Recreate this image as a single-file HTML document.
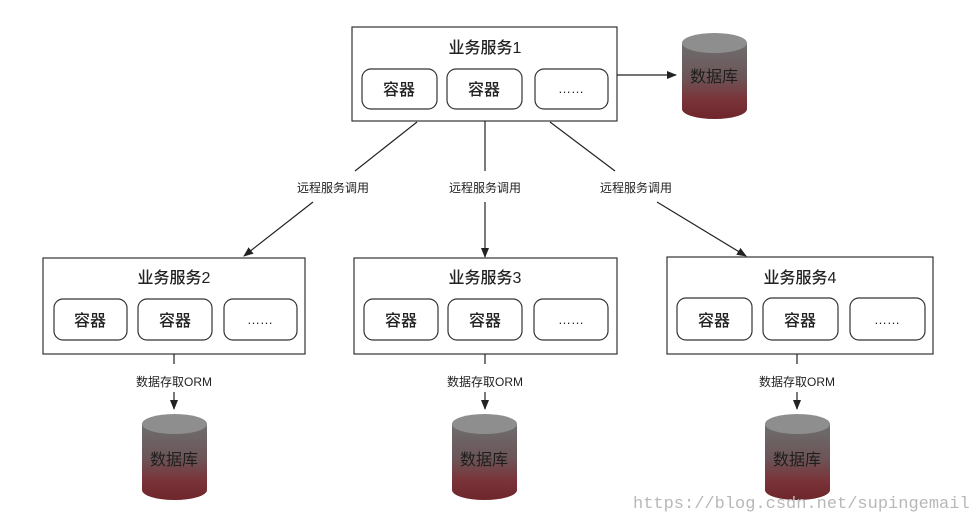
<!DOCTYPE html>
<html><head><meta charset="utf-8"><style>
html,body{margin:0;padding:0;background:#fff;}
svg{display:block;}
text{font-family:"Liberation Sans","Noto Sans CJK SC",sans-serif;}
</style></head><body>
<svg width="980" height="524" viewBox="0 0 980 524" xmlns="http://www.w3.org/2000/svg">
<defs>
<linearGradient id="g" x1="0" y1="0" x2="0" y2="1">
<stop offset="0" stop-color="#6e6e6e"/>
<stop offset="0.45" stop-color="#6c5558"/>
<stop offset="0.75" stop-color="#7a3338"/>
<stop offset="1" stop-color="#6e262b"/>
</linearGradient>
<marker id="a" markerWidth="10" markerHeight="10" refX="9" refY="5" orient="auto" markerUnits="userSpaceOnUse">
<path d="M0,1 L10,5 L0,9 z" fill="#222"/>
</marker>
<g id="db">
<path d="M0,10 L0,76 A32.5,10 0 0 0 65,76 L65,10 z" fill="url(#g)"/>
<ellipse cx="32.5" cy="10" rx="32.5" ry="10" fill="#8e8e8e"/>
</g>
</defs>
<g fill="none" stroke="#333" stroke-width="1.2">
<rect x="352" y="27" width="265" height="94" fill="#fff"/>
<rect x="362" y="69" width="75" height="40" rx="9"/>
<rect x="447" y="69" width="75" height="40" rx="9"/>
<rect x="535" y="69" width="73" height="40" rx="9"/>
<rect x="43" y="258" width="262" height="96"/>
<rect x="54" y="299" width="73" height="41" rx="9"/>
<rect x="138" y="299" width="74" height="41" rx="9"/>
<rect x="224" y="299" width="73" height="41" rx="9"/>
<rect x="354" y="258" width="263" height="96"/>
<rect x="364" y="299" width="74" height="41" rx="9"/>
<rect x="448" y="299" width="74" height="41" rx="9"/>
<rect x="534" y="299" width="74" height="41" rx="9"/>
<rect x="667" y="257" width="266" height="97"/>
<rect x="677" y="298" width="75" height="42" rx="9"/>
<rect x="763" y="298" width="75" height="42" rx="9"/>
<rect x="850" y="298" width="75" height="42" rx="9"/>
</g>
<g stroke="#222" stroke-width="1.2">
<line x1="617" y1="75" x2="676" y2="75" marker-end="url(#a)"/>
<line x1="417" y1="122" x2="355" y2="171"/>
<line x1="313" y1="202" x2="244" y2="256" marker-end="url(#a)"/>
<line x1="485" y1="121" x2="485" y2="171"/>
<line x1="485" y1="202" x2="485" y2="257" marker-end="url(#a)"/>
<line x1="550" y1="122" x2="615" y2="171"/>
<line x1="657" y1="202" x2="746" y2="256" marker-end="url(#a)"/>
<line x1="174" y1="354" x2="174" y2="364"/>
<line x1="174" y1="392" x2="174" y2="409" marker-end="url(#a)"/>
<line x1="485" y1="354" x2="485" y2="364"/>
<line x1="485" y1="392" x2="485" y2="409" marker-end="url(#a)"/>
<line x1="797" y1="354" x2="797" y2="364"/>
<line x1="797" y1="392" x2="797" y2="409" marker-end="url(#a)"/>
</g>
<use href="#db" x="682" y="33"/>
<use href="#db" x="142" y="414"/>
<use href="#db" x="452" y="414"/>
<use href="#db" x="765" y="414"/>
<g fill="#222" text-anchor="middle">
<g font-size="16" font-weight="500">
<text x="485" y="53">业务服务1</text>
<text x="399" y="95">容器</text>
<text x="484" y="95">容器</text>
<text x="174" y="283">业务服务2</text>
<text x="90" y="326">容器</text>
<text x="175" y="326">容器</text>
<text x="485" y="283">业务服务3</text>
<text x="401" y="326">容器</text>
<text x="485" y="326">容器</text>
<text x="800" y="283">业务服务4</text>
<text x="714" y="326">容器</text>
<text x="800" y="326">容器</text>
</g>
<text x="571" y="93" font-size="13">……</text>
<text x="260" y="324" font-size="13">……</text>
<text x="571" y="324" font-size="13">……</text>
<text x="887" y="324" font-size="13">……</text>
<text x="333" y="192" font-size="12">远程服务调用</text>
<text x="485" y="192" font-size="12">远程服务调用</text>
<text x="636" y="192" font-size="12">远程服务调用</text>
<text x="174" y="386" font-size="12">数据存取ORM</text>
<text x="485" y="386" font-size="12">数据存取ORM</text>
<text x="797" y="386" font-size="12">数据存取ORM</text>
<g font-size="16" fill="#1e1e1e">
<text x="714" y="82">数据库</text>
<text x="174" y="465">数据库</text>
<text x="484" y="465">数据库</text>
<text x="797" y="465">数据库</text>
</g>
</g>
<text x="633" y="508" fill="#b8b8b8" style="font-family:'Liberation Mono',monospace;font-size:17px">https://blog.csdn.net/supingemail</text>
</svg>
</body></html>
